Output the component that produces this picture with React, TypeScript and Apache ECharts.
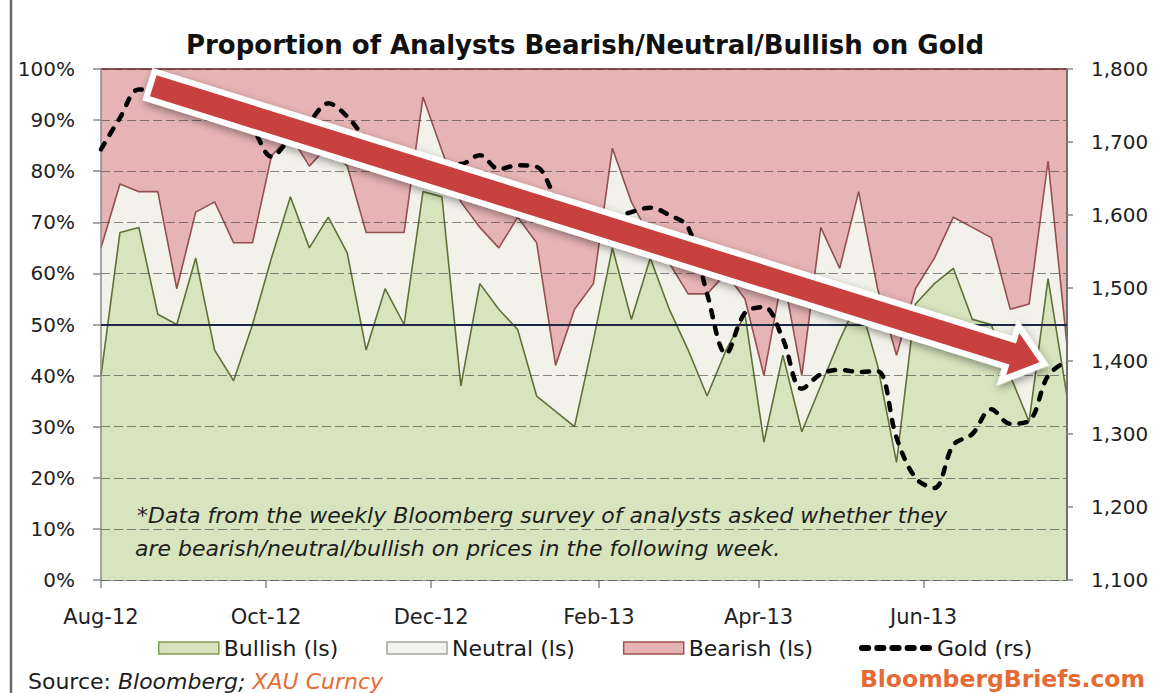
import React, { useEffect, useRef } from 'react';
import * as echarts from 'echarts';

// ---- data ----
const monthLabels = ['Aug-12', 'Oct-12', 'Dec-12', 'Feb-13', 'Apr-13', 'Jun-13'];
// days after 1 Aug 2012 at which each label's month starts
const monthTickDays = [0, 61, 122, 184, 243, 304];
const weekStepDays = 7;

const bullish = [40, 68, 69, 52, 50, 63, 45, 39, 50, 63, 75, 65, 71, 64, 45, 57, 50, 76, 75, 38, 58, 53, 49, 36, 33, 30, 47, 65, 51, 63, 53, 45, 36, 45, 52, 27, 44, 29, 38, 47, 55, 42, 23, 54, 58, 61, 51, 50, 40, 31, 59, 36];
const neutral = [25, 9.5, 7, 24, 7, 9, 29, 27, 16, 20, 12, 16, 14, 17, 23, 11, 18, 18.5, 9, 36, 11, 12, 22, 30, 9, 23, 11, 19.5, 23, 4, 9, 11, 20, 15, 3, 13, 16, 11, 31, 14, 21, 15, 21, 3, 5, 10, 18, 17, 13, 23, 23, 10];
const bearish = [35, 22.5, 24, 24, 43, 28, 26, 34, 34, 17, 13, 19, 15, 19, 32, 32, 32, 5.5, 16, 26, 31, 35, 29, 34, 58, 47, 42, 15.5, 26, 33, 38, 44, 44, 40, 45, 60, 40, 60, 31, 39, 24, 43, 56, 43, 37, 29, 31, 33, 47, 46, 18, 54];
const gold = [1690, 1733, 1772, 1770, 1765, 1758, 1750, 1738, 1718, 1680, 1705, 1728, 1753, 1735, 1705, 1690, 1682, 1675, 1672, 1670, 1682, 1663, 1668, 1666, 1625, 1600, 1588, 1596, 1604, 1610, 1600, 1583, 1492, 1410, 1466, 1474, 1430, 1362, 1382, 1388, 1385, 1386, 1295, 1240, 1226, 1285, 1300, 1334, 1314, 1318, 1380, 1400];

const seriesNames = ['Bullish (ls)', 'Neutral (ls)', 'Bearish (ls)', 'Gold (rs)'];
const titleText = 'Proportion of Analysts Bearish/Neutral/Bullish on Gold';
const noteLine1 = '*Data from the weekly Bloomberg survey of analysts asked whether they';
const noteLine2 = 'are bearish/neutral/bullish on prices in the following week.';

const FONT = '"DejaVu Sans", "Open Sans", sans-serif';

export default function App() {
  const ref = useRef<HTMLDivElement>(null);

  useEffect(() => {
    const chart = echarts.init(ref.current as HTMLDivElement, null, { renderer: 'svg' });
    const days = bullish.map((_, i) => i * weekStepDays);
    const lastDay = days[days.length - 1];
    // cumulative tops of the stacked proportions (drawn back to front)
    const topBull = bullish.map((v) => v);
    const topNeutral = bullish.map((v, i) => v + neutral[i]);
    const topBear = bullish.map((v, i) => v + neutral[i] + bearish[i]);
    const pair = (arr: number[]) => arr.map((v, i) => [days[i], v]);

    const goldIcon =
      'path://' +
      [0, 1, 2, 3, 4]
        .map((k) => {
          const x = k * 15;
          return `M${x + 3},0 L${x + 9},0 A3,3 0 0 1 ${x + 9},6 L${x + 3},6 A3,3 0 0 1 ${x + 3},0 Z`;
        })
        .join(' ');

    const axisText = { fontSize: 20, fontFamily: FONT, color: '#222' };
    const legendText = { fontSize: 22, fontFamily: FONT, color: '#1a1a1a' };

    const option: any = {
      animation: false,
      backgroundColor: '#ffffff',
      grid: { left: 101, right: 88, top: 69, bottom: 113, containLabel: false, outerBoundsMode: 'none' },
      xAxis: {
        type: 'value',
        min: 0,
        max: lastDay,
        axisLine: { onZero: false, lineStyle: { color: '#8a8a8a', width: 1.5 } },
        axisTick: { show: true, customValues: monthTickDays, length: 8, lineStyle: { color: '#8a8a8a', width: 1.5 } },
        axisLabel: {
          customValues: monthTickDays,
          margin: 26,
          ...axisText,
          fontSize: 21,
          formatter: (v: number) => {
            const k = monthTickDays.indexOf(v);
            return k >= 0 ? monthLabels[k] : '';
          },
        },
        splitLine: { show: false },
      },
      yAxis: [
        {
          type: 'value',
          min: 0,
          max: 100,
          interval: 10,
          z: 3,
          axisLine: { show: true, lineStyle: { color: '#8a8a8a', width: 1.5 } },
          axisTick: { show: true, length: 8, lineStyle: { color: '#8a8a8a', width: 1.5 } },
          axisLabel: { formatter: '{value}%', margin: 26, ...axisText },
          splitLine: { show: true, lineStyle: { color: 'rgba(60,60,60,0.6)', width: 1, type: [9, 4] } },
        },
        {
          type: 'value',
          min: 1100,
          max: 1800,
          interval: 100,
          z: 3,
          position: 'right',
          axisLine: { show: true, lineStyle: { color: '#6f6f6f', width: 2 } },
          axisTick: { show: true, length: 6, lineStyle: { color: '#8a8a8a', width: 1.5 } },
          axisLabel: {
            margin: 24,
            ...axisText,
            formatter: (v: number) => v.toLocaleString('en-US'),
          },
          splitLine: { show: false },
        },
      ],
      legend: [
        {
          left: 158,
          top: 637,
          padding: 0,
          itemWidth: 60,
          itemHeight: 12,
          itemGap: 48,
          selectedMode: false,
          textStyle: legendText,
          data: [
            { name: seriesNames[0], icon: 'rect', itemStyle: { color: '#D7E4BD', borderColor: '#7E9C4E', borderWidth: 1.5 } },
            { name: seriesNames[1], icon: 'rect', itemStyle: { color: '#F4F4EE', borderColor: '#A6A6A0', borderWidth: 1.5 } },
            { name: seriesNames[2], icon: 'rect', itemStyle: { color: '#E7B4B5', borderColor: '#A0514F', borderWidth: 1.5 } },
          ],
        },
        {
          left: 859,
          top: 637,
          padding: 0,
          itemWidth: 73,
          itemHeight: 12,
          selectedMode: false,
          textStyle: legendText,
          data: [{ name: seriesNames[3], icon: goldIcon, itemStyle: { color: '#000', borderWidth: 0 } }],
        },
      ],
      series: [
        {
          name: seriesNames[2],
          type: 'line',
          yAxisIndex: 0,
          showSymbol: false,
          z: 2,
          data: pair(topBear),
          lineStyle: { color: '#93504F', width: 2 },
          itemStyle: { color: '#E7B4B5' },
          areaStyle: { color: '#E7B4B5', opacity: 1, origin: 'start' },
        },
        {
          name: seriesNames[1],
          type: 'line',
          yAxisIndex: 0,
          showSymbol: false,
          z: 2,
          data: pair(topNeutral),
          lineStyle: { color: '#93504F', width: 1.6 },
          itemStyle: { color: '#F4F4EE' },
          areaStyle: { color: '#F3F2EA', opacity: 1, origin: 'start' },
        },
        {
          name: seriesNames[0],
          type: 'line',
          yAxisIndex: 0,
          showSymbol: false,
          z: 2,
          data: pair(topBull),
          lineStyle: { color: '#5E7237', width: 1.6 },
          itemStyle: { color: '#D7E4BD' },
          areaStyle: { color: '#D7E4BD', opacity: 1, origin: 'start' },
          markLine: {
            silent: true,
            symbol: ['none', 'none'],
            label: { show: false },
            lineStyle: { color: '#1F2747', width: 2, type: 'solid' },
            data: [{ yAxis: 50 }],
          },
        },
        {
          name: seriesNames[3],
          type: 'line',
          yAxisIndex: 1,
          showSymbol: false,
          smooth: 0.35,
          z: 6,
          data: pair(gold),
          itemStyle: { color: '#000' },
          lineStyle: { color: '#000', width: 4.5, type: [7, 10], cap: 'round', join: 'round' },
        },
      ],
      graphic: [
        {
          type: 'line',
          z: 100,
          silent: true,
          shape: { x1: 11, y1: 0, x2: 11, y2: 693 },
          style: { stroke: '#666', lineWidth: 2.5 },
        },
        {
          type: 'text',
          z: 100,
          x: 585,
          y: 45,
          style: { text: titleText, font: `bold 26px ${FONT}`, fill: '#111', textAlign: 'center', textVerticalAlign: 'middle' },
        },
        {
          type: 'text',
          z: 100,
          x: 137,
          y: 515,
          style: { text: noteLine1, font: `italic 22px ${FONT}`, fill: '#1e1e1e', textAlign: 'left', textVerticalAlign: 'middle' },
        },
        {
          type: 'text',
          z: 100,
          x: 135,
          y: 548,
          style: { text: noteLine2, font: `italic 22px ${FONT}`, fill: '#1e1e1e', textAlign: 'left', textVerticalAlign: 'middle' },
        },
        {
          type: 'group',
          z: 100,
          x: 147.5,
          y: 84,
          rotation: -0.3026,
          silent: true,
          children: [
            {
              type: 'polygon',
              z: 100,
              shape: { points: [[0, -17], [900, -17], [900, -35], [944, 0], [900, 35], [900, 17], [0, 17]] },
              style: { fill: '#ffffff', shadowBlur: 8, shadowColor: 'rgba(0,0,0,0.4)', shadowOffsetX: 2, shadowOffsetY: 3 },
            },
            {
              type: 'polygon',
              z: 101,
              shape: { points: [[6, -11], [906, -11], [906, -22], [934, 0], [906, 22], [906, 11], [6, 11]] },
              style: { fill: '#C8413F' },
            },
          ],
        },
        {
          type: 'text',
          z: 100,
          x: 28,
          y: 681,
          style: {
            text: 'Source: {i|Bloomberg;} {o|XAU Curncy}',
            font: `22px ${FONT}`,
            fill: '#1e1e1e',
            textAlign: 'left',
            textVerticalAlign: 'middle',
            rich: {
              i: { font: `italic 22px ${FONT}`, fill: '#1e1e1e' },
              o: { font: `italic 22px ${FONT}`, fill: '#E46C34' },
            },
          },
        },
        {
          type: 'text',
          z: 100,
          x: 1145,
          y: 679,
          style: { text: 'BloombergBriefs.com', font: `bold 23.5px ${FONT}`, fill: '#E46C34', textAlign: 'right', textVerticalAlign: 'middle' },
        },
      ],
    };

    chart.setOption(option);
    return () => chart.dispose();
  }, []);

  return <div ref={ref} style={{ position: 'absolute', left: 0, top: 0, width: 1155, height: 693, background: '#fff' }} />;
}
